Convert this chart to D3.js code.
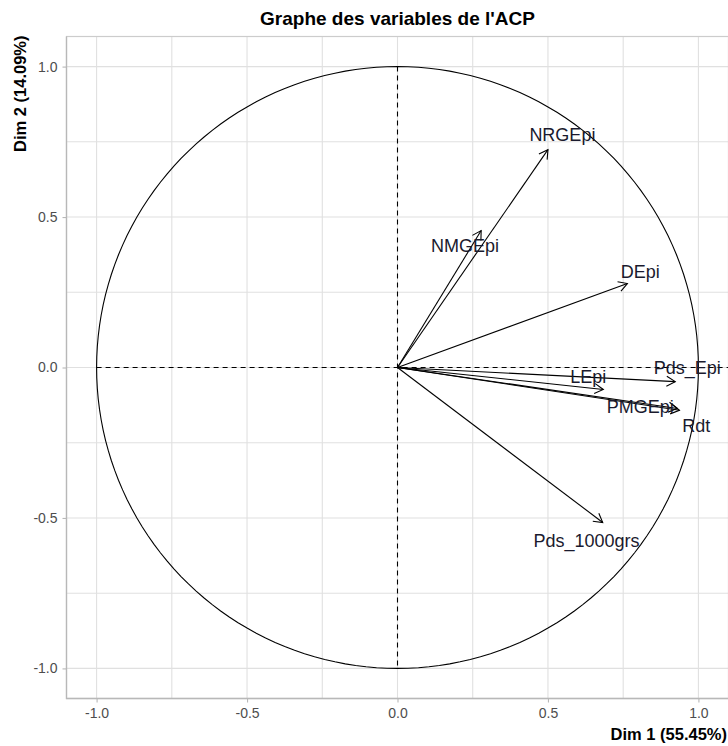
<!DOCTYPE html>
<html>
<head>
<meta charset="utf-8">
<script src="https://cdn.jsdelivr.net/npm/d3@7"></script>
<style>
  html, body { margin: 0; padding: 0; background: #fff; }
  svg { display: block; }
  text { font-family: "Liberation Sans", Arial, sans-serif; }
</style>
</head>
<body>
<svg id="chart" width="728" height="746"></svg>
<script>
// ---- Data ----
const variables = ["NRGEpi", "NMGEpi", "DEpi", "Pds_Epi", "LEpi", "PMGEpi", "Rdt", "Pds_1000grs"];
const dim1 = [0.50, 0.278, 0.764, 0.923, 0.684, 0.930, 0.937, 0.682];
const dim2 = [0.724, 0.455, 0.279, -0.047, -0.073, -0.136, -0.142, -0.515];
// repelled label positions (data units)
const labelX = [0.548, 0.224, 0.807, 0.963, 0.634, 0.807, 0.993, 0.628];
const labelY = [0.771, 0.405, 0.319, -0.003, -0.030, -0.130, -0.193, -0.575];
const tickValues = [-1.0, -0.5, 0.0, 0.5, 1.0];
const minorTicks = [-0.75, -0.25, 0.25, 0.75];
const title = "Graphe des variables de l'ACP";
const xTitle = "Dim 1 (55.45%)";
const yTitle = "Dim 2 (14.09%)";

// ---- Layout ----
const svg = d3.select("#chart");
const L = 66.5, R = 728.5, T = 36.5, B = 698.5;
const x = d3.scaleLinear().domain([-1.1, 1.1]).range([L, R]);
const y = d3.scaleLinear().domain([-1.1, 1.1]).range([B, T]);

const grid = svg.append("g");
const gridColor = "#e0e0e0";
[...tickValues, ...minorTicks].forEach(v => {
  grid.append("line").attr("x1", x(v)).attr("x2", x(v)).attr("y1", T).attr("y2", B)
    .attr("stroke", gridColor).attr("stroke-width", 1.1);
  grid.append("line").attr("y1", y(v)).attr("y2", y(v)).attr("x1", L).attr("x2", R)
    .attr("stroke", gridColor).attr("stroke-width", 1.1);
});

// panel border
svg.append("rect").attr("x", L).attr("y", T).attr("width", R - L).attr("height", B - T)
  .attr("fill", "none").attr("stroke", "#cccccc").attr("stroke-width", 1.2);
svg.append("path").attr("d", `M${L},${T}V${B}H${R}`)
  .attr("fill", "none").attr("stroke", "#b8b8b8").attr("stroke-width", 1.3);

// axes
const fmt = d => d3.format(".1f")(d).replace("−", "-");
const xAxis = d3.axisBottom(x).tickValues(tickValues).tickFormat(fmt).tickSize(4).tickPadding(6);
const yAxis = d3.axisLeft(y).tickValues(tickValues).tickFormat(fmt).tickSize(4).tickPadding(5);
const gx = svg.append("g").attr("transform", `translate(0,${B})`).call(xAxis);
const gy = svg.append("g").attr("transform", `translate(${L},0)`).call(yAxis);
[gx, gy].forEach(g => {
  g.select(".domain").remove();
  g.selectAll(".tick line").attr("stroke", "#b8b8b8").attr("stroke-width", 1.1);
  g.selectAll(".tick text").attr("fill", "#4d4d4d").style("font-size", "14px")
    .style("font-family", "'Liberation Sans', Arial, sans-serif");
});

// dashed zero lines
svg.append("line").attr("x1", x(0)).attr("x2", x(0)).attr("y1", y(1)).attr("y2", y(-1))
  .attr("stroke", "#000").attr("stroke-width", 1.1).attr("stroke-dasharray", "5,4");
svg.append("line").attr("y1", y(0)).attr("y2", y(0)).attr("x1", x(-1)).attr("x2", x(1.1))
  .attr("stroke", "#000").attr("stroke-width", 1.1).attr("stroke-dasharray", "5,4");

// correlation circle
const circ = d3.range(0, 361, 2).map(a => [Math.cos(a * Math.PI / 180), Math.sin(a * Math.PI / 180)]);
svg.append("path").datum(circ)
  .attr("d", d3.line().x(d => x(d[0])).y(d => y(d[1])))
  .attr("fill", "none").attr("stroke", "#000").attr("stroke-width", 1.1);

// arrows
const arrows = svg.append("g");
variables.forEach((v, i) => {
  const x0 = x(0), y0 = y(0), x1 = x(dim1[i]), y1 = y(dim2[i]);
  arrows.append("line").attr("x1", x0).attr("y1", y0).attr("x2", x1).attr("y2", y1)
    .attr("stroke", "#000").attr("stroke-width", 1.1);
  const ang = Math.atan2(y1 - y0, x1 - x0);
  const len = 10, spread = Math.PI / 6;
  const p1 = [x1 - len * Math.cos(ang - spread), y1 - len * Math.sin(ang - spread)];
  const p2 = [x1 - len * Math.cos(ang + spread), y1 - len * Math.sin(ang + spread)];
  arrows.append("path").attr("d", `M${p1[0]},${p1[1]}L${x1},${y1}L${p2[0]},${p2[1]}`)
    .attr("fill", "none").attr("stroke", "#000").attr("stroke-width", 1.1);
});

// variable labels
svg.append("g").selectAll("text").data(variables).join("text")
  .attr("x", (d, i) => x(labelX[i])).attr("y", (d, i) => y(labelY[i]))
  .attr("text-anchor", "middle").attr("dominant-baseline", "central")
  .attr("fill", "#1a1a2e").style("font-size", "18px").text(d => d);

// titles
svg.append("text").attr("x", (L + R) / 2).attr("y", 25).attr("text-anchor", "middle")
  .style("font-size", "19px").style("font-weight", "bold").attr("fill", "#000").text(title);
svg.append("text").attr("x", 727).attr("y", 740).attr("text-anchor", "end")
  .style("font-size", "16.5px").style("font-weight", "bold").attr("fill", "#000").text(xTitle);
svg.append("text").attr("transform", `translate(26,${T - 1}) rotate(-90)`).attr("text-anchor", "end")
  .style("font-size", "16.5px").style("font-weight", "bold").attr("fill", "#000").text(yTitle);
</script>
</body>
</html>
